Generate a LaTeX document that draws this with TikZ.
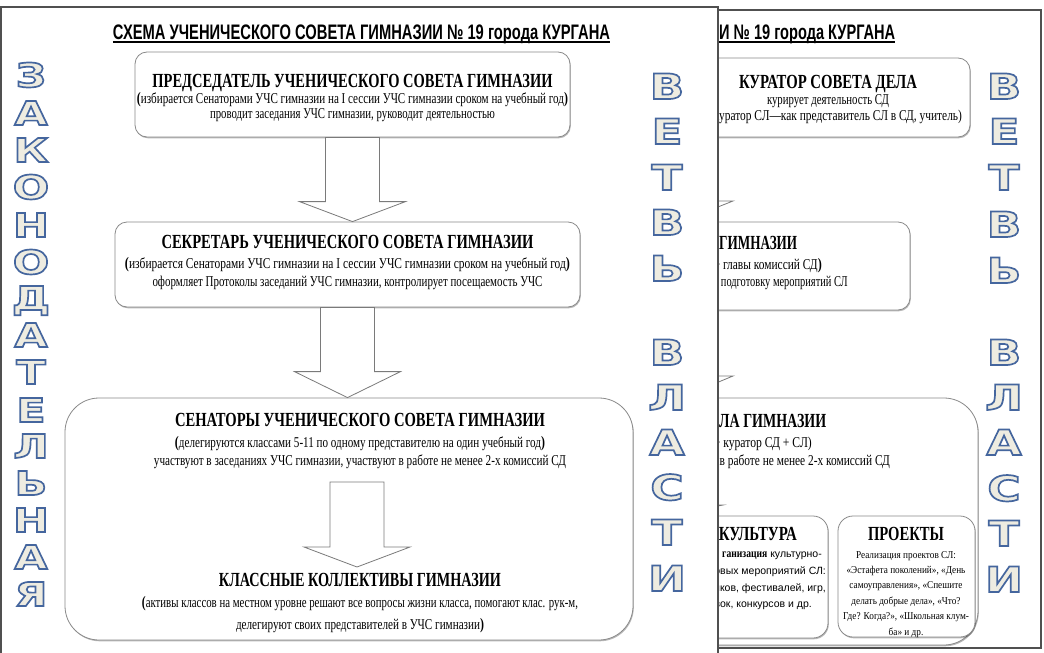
\documentclass[tikz,border=0pt]{standalone}
\usepackage{fontspec}
\usepackage{graphicx}
\setmainfont{Liberation Serif}
\newfontfamily\condserif[FakeStretch=0.8]{Liberation Serif}
\newfontfamily\smserif[FakeStretch=0.88]{Liberation Serif}
\newfontfamily\titlesans[FakeStretch=0.8]{Liberation Sans}
\newfontfamily\plainsans{Liberation Sans}
\newfontfamily\wafont[FakeStretch=1.3]{DejaVu Sans}
\usetikzlibrary{calc,shadows}
\definecolor{pagegray}{HTML}{505050}
\definecolor{boxgray}{HTML}{8A8A8A}
\definecolor{arrgray}{HTML}{7A7A7A}
\definecolor{wafill}{HTML}{EEECE1}
\newcommand\fw[2]{\resizebox{#1pt}{\height}{#2}}
\newcommand\bp[1]{{\bfseries\fontsize{16}{16}\selectfont #1}}
\newcommand\blockarrow[4]{% #1 top point, #2 tip point, #3 head length, #4 shaft half width
  \draw[barrow] let \p1=(#1), \p2=(#2) in
   (\x2-#4,\y1) -- (\x2-#4,\y2+#3) -- (\x2-53pt,\y2+#3) -- (\x2,\y2) --
   (\x2+53pt,\y2+#3) -- (\x2+#4,\y2+#3) -- (\x2+#4,\y1) -- cycle;}
% outlined WordArt-like letter: fill colour from the node, blue stroke via text render mode 2
\newcommand\wa[1]{\special{pdf:literal direct 2 Tr 1.7 w 0.27 0.40 0.62 RG}#1\special{pdf:literal direct 0 Tr}}
\tikzset{
  page/.style={draw=pagegray, line width=1.1pt, fill=white},
  box/.style={draw=boxgray, line width=0.8pt, fill=white, rounded corners=12pt, inner sep=0pt,
    drop shadow={shadow xshift=0.8pt, shadow yshift=-1.3pt, fill=black, opacity=0.28}},
  bigbox/.style={box, rounded corners=34pt},
  smallbox/.style={box, rounded corners=15pt},
  barrow/.style={draw=arrgray, line width=0.8pt, fill=white},
  ttl/.style={inner sep=0pt, anchor=base, font=\titlesans\bfseries\fontsize{21}{21}\selectfont},
  hd/.style={inner sep=0pt, anchor=base, font=\condserif\bfseries\fontsize{20}{20}\selectfont},
  bd/.style={inner sep=0pt, anchor=base, font=\condserif\fontsize{15}{15}\selectfont},
  sm/.style={inner sep=0pt, anchor=base east, font=\plainsans\fontsize{10.5}{10.5}\selectfont},
  wl/.style={inner sep=0pt, text height=26pt, text depth=0pt, text=wafill, font=\wafont\bfseries\fontsize{35}{35}\selectfont},
  wls/.style={inner sep=0pt, text height=24pt, text depth=0pt, text=wafill, font=\wafont\bfseries\fontsize{33}{33}\selectfont},
}
\begin{document}
\begin{tikzpicture}[x=1pt,y=-1pt]
\useasboundingbox (0,0) rectangle (1044,653);
\fill[white] (0,0) rectangle (1044,653);
% ================= RIGHT (back) PAGE =================
\draw[page] (680,10) rectangle (1041,648);
\node[ttl, anchor=base west] (rttl) at (719,39) {\fw{176}{И № 19 города КУРГАНА}};
\draw[line width=1.2pt] (rttl.base west |- 0,42) -- (rttl.base east |- 0,42);
% curator box
\node[box, minimum width=280pt, minimum height=79pt] (rb1) at (830,97.5) {};
\node[hd] (rb1t) at (828,88) {\fw{178}{КУРАТОР СОВЕТА ДЕЛА}};
\node[bd] (rb1a) at (828,104) {\fw{122}{курирует деятельность СД}};
\node[bd] (rb1b) at (836,120) {\fw{252}{(куратор СЛ—как представитель СЛ в СД, учитель)}};
% second box
\node[box, minimum width=410pt, minimum height=88pt] (rb2) at (705,266) {};
\node[hd, anchor=base west] (rb2t) at (719,249) {\fw{78}{ГИМНАЗИИ}};
\node[bd, anchor=base east] (rb2a) at (822,269) {\fw{108}{+ главы комиссий СД\bp{)}}};
\node[bd, anchor=base east] (rb2b) at (848,286) {\fw{134}{т подготовку мероприятий СЛ}};
% arrows of back page
\coordinate (ra1top) at (680,137);
\coordinate (ra1tip) at (680,222);
\blockarrow{ra1top}{ra1tip}{21pt}{27pt}
\coordinate (ra2top) at (680,310);
\coordinate (ra2tip) at (680,398);
\blockarrow{ra2top}{ra2tip}{22pt}{27pt}
% third box
\node[bigbox, minimum width=528pt, minimum height=247pt] (rb3) at (714,521.5) {};
\node[hd, anchor=base west] (rb3t) at (719,427) {\fw{107}{ЛА ГИМНАЗИИ}};
\node[bd, anchor=base east] (rb3a) at (812,447) {\fw{98}{+ куратор СД + СЛ)}};
\node[bd, anchor=base east] (rb3b) at (890,465) {\fw{178}{т в работе не менее 2-х комиссий СД}};
\coordinate (ra3top) at (670,480);
\coordinate (ra3tip) at (670,516);
\blockarrow{ra3top}{ra3tip}{11pt}{27pt}
% culture box
\node[smallbox, minimum width=138pt, minimum height=122pt] (rk) at (759,577) {};
\node[hd, anchor=base east] (rkt) at (797,540) {\fw{78}{КУЛЬТУРА}};
\node[sm] (rk1) at (822,557) {{\condserif\fontsize{12}{12}\selectfont\bfseries ганизация} культурно-};
\node[sm] (rk2) at (826,574) {овых мероприятий СЛ:};
\node[sm] (rk3) at (826,591) {ников, фестивалей, игр,};
\node[sm] (rk4) at (812,607) {тавок, конкурсов и др.};
% projects box
\node[smallbox, minimum width=137pt, minimum height=121pt] (rp) at (906.5,576.5) {};
\node[hd] (rpt) at (906,540) {\fw{76}{ПРОЕКТЫ}};
\node[inner sep=0pt, anchor=north, align=center, font=\smserif\fontsize{10.5}{15.4}\selectfont] (rpx) at (906,551)
  {Реализация проектов СЛ:\\«Эстафета поколений», «День\\самоуправления», «Спешите\\делать добрые дела», «Что?\\Где? Когда?», «Школьная клум-\\ба» и др.};
% letters of back page
\foreach \ch/\yy [count=\i] in {В/86,Е/131,Т/177,В/224,Ь/270,В/352,Л/397,А/442,С/488,Т/533,И/579}
  {\node[wl] (rl\i) at (1004,\yy) {\wa{\ch}};}
% ================= LEFT (front) PAGE =================
\draw[page] (1,7) rectangle (718,670);
\node[ttl] (ttl) at (361.5,39) {\fw{497}{СХЕМА УЧЕНИЧЕСКОГО СОВЕТА ГИМНАЗИИ № 19 города КУРГАНА}};
\draw[line width=1.2pt] ($(ttl.base west)+(0,3)$) -- ($(ttl.base east)+(0,3)$);
% box 1
\node[box, minimum width=435pt, minimum height=85pt] (b1) at (352.5,94.5) {};
\node[hd] (b1t) at (352.5,87.5) {\fw{400}{ПРЕДСЕДАТЕЛЬ УЧЕНИЧЕСКОГО СОВЕТА ГИМНАЗИИ}};
\node[bd] (b1a) at (352.5,103.5) {\fw{431}{\bp{(}избирается Сенаторами УЧС гимназии на I сессии УЧС гимназии сроком на учебный год\bp{)}}};
\node[bd] (b1b) at (352.5,118.5) {\fw{285}{проводит заседания УЧС гимназии, руководит деятельностью}};
% box 2
\node[box, minimum width=465pt, minimum height=85pt] (b2) at (347.5,264.5) {};
\node[hd] (b2t) at (347.5,248.5) {\fw{372}{СЕКРЕТАРЬ УЧЕНИЧЕСКОГО СОВЕТА ГИМНАЗИИ}};
\node[bd] (b2a) at (347.5,268) {\fw{445}{\bp{(}избирается Сенаторами УЧС гимназии на I сессии УЧС гимназии сроком на учебный год\bp{)}}};
\node[bd] (b2b) at (347.5,286) {\fw{390}{оформляет Протоколы заседаний УЧС гимназии, контролирует посещаемость УЧС}};
% box 3
\node[bigbox, minimum width=568pt, minimum height=242pt] (b3) at (349,519) {};
\node[hd] (b3t) at (360,426.5) {\fw{370}{СЕНАТОРЫ УЧЕНИЧЕСКОГО СОВЕТА ГИМНАЗИИ}};
\node[bd] (b3a) at (360,447) {\fw{370}{\bp{(}делегируются классами 5-11 по одному представителю на один учебный год\bp{)}}};
\node[bd] (b3b) at (360,465) {\fw{412}{участвуют в заседаниях УЧС гимназии, участвуют в работе не менее 2-х комиссий СД}};
\node[hd] (k1) at (360,586.5) {\fw{282}{КЛАССНЫЕ КОЛЛЕКТИВЫ ГИМНАЗИИ}};
\node[bd] (k2) at (360,607) {\fw{436}{\bp{(}активы классов на местном уровне решают все вопросы жизни класса, помогают клас. рук-м,}};
\node[bd] (k3) at (360,629) {\fw{248}{делегируют своих представителей в УЧС гимназии\bp{)}}};
% arrows
\blockarrow{b1.south}{b1.south |- b2.north}{20pt}{27pt}
\blockarrow{b2.south}{b2.south |- b3.north}{26pt}{27pt}
\coordinate (a3top) at (357,482);
\coordinate (a3tip) at (357,567);
\blockarrow{a3top}{a3tip}{20pt}{27pt}
% letters
\foreach \ch/\yy [count=\i] in {З/75,А/113,К/150,О/187,Н/225,О/262,Д/298,А/335,Т/372,Е/410,Л/446,Ь/483,Н/520,А/557,Я/594}
  {\node[wls] (zl\i) at (31,\yy) {\wa{\ch}};}
\foreach \ch/\yy [count=\i] in {В/86,Е/131,Т/177,В/222,Ь/268,В/352,Л/397,А/442,С/487,Т/532,И/578}
  {\node[wl] (vl\i) at (667,\yy) {\wa{\ch}};}
\end{tikzpicture}
\end{document}
